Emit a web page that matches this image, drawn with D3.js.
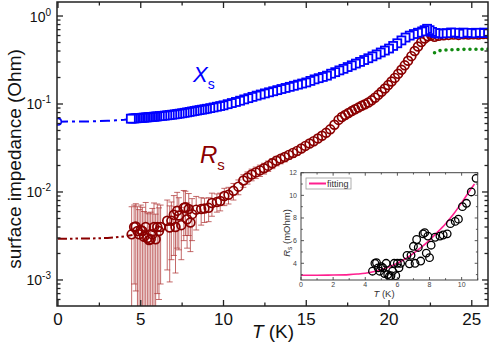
<!DOCTYPE html>
<html>
<head>
<meta charset="utf-8">
<script src="https://cdn.jsdelivr.net/npm/d3@7"></script>
<style>
  body { margin: 0; background: #fff; }
  svg { display: block; font-family: "Liberation Sans", Arial, sans-serif; }
</style>
</head>
<body>
<div id="chart"></div>
<script>
// X_s (reactance), Ohm
const xsT = [4.4,4.5,4.6,4.7,4.8,4.9,5.0,5.1,5.2,5.3,5.4,5.5,5.6,5.7,5.8,5.9,6.0,6.15,6.3,6.45,6.6,6.75,6.9,7.05,7.2,7.35,7.5,7.65,7.8,7.95,8.1,8.25,8.4,8.55,8.7,8.85,9.0,9.2,9.4,9.6,9.8,10.0,10.25,10.5,10.75,11.0,11.25,11.5,11.75,12.0,12.25,12.5,12.75,13.0,13.25,13.5,13.75,14.0,14.25,14.5,14.75,15.0,15.25,15.5,15.75,16.0,16.25,16.5,16.75,17.0,17.25,17.5,17.75,18.0,18.25,18.5,18.75,19.0,19.25,19.5,19.75,20.0,20.25,20.5,20.75,21.0,21.25,21.5,21.75,22.0,22.15,22.3,22.45,22.6,22.8,23.0,23.25,23.5,23.75,24.0,24.25,24.5,24.75,25.0,25.25,25.5,25.75,26.0];
const xsV = [.0681,.0684,.0686,.0688,.0690,.0693,.0695,.0698,.0700,.0703,.0705,.0708,.0711,.0714,.0717,.0720,.0723,.0728,.0733,.0738,.0744,.0750,.0756,.0762,.0770,.0777,.0785,.0794,.0803,.0813,.0823,.0833,.0843,.0853,.0862,.0872,.0883,.0898,.0914,.0931,.0948,.0966,.0995,.1025,.1055,.1090,.1128,.1165,.1205,.1245,.1282,.1320,.1358,.1396,.1437,.1480,.1522,.1567,.1612,.1660,.1708,.1758,.1830,.1905,.1965,.2030,.2100,.2210,.2300,.2410,.2510,.2630,.2750,.2880,.3010,.3160,.3310,.3480,.3660,.3850,.4050,.4270,.4570,.4900,.5280,.5690,.5990,.6240,.6460,.6680,.6900,.7160,.6900,.6600,.6400,.6310,.6350,.6380,.6500,.6450,.6300,.6480,.6420,.6350,.6450,.6400,.6480,.6400];
// X_s extrapolation to T = 0
const xsFitT = [0, 1, 2, 3, 3.5, 4, 4.4];
const xsFitV = [0.063, 0.0631, 0.0634, 0.0645, 0.0652, 0.0662, 0.0675];

// R_s (resistance), Ohm, with error bars
const rsT = [4.45,4.6,4.7,4.8,4.9,5.0,5.1,5.2,5.3,5.4,5.5,5.6,5.7,5.8,5.9,6.0,6.1,6.2,6.6,6.75,6.85,7.0,7.1,7.2,7.3,7.45,7.6,7.7,7.8,7.9,8.0,8.1,8.35,8.65,8.85,9.1,9.3,9.6,9.8,10.05,10.3,10.6,10.9,
  11.2,11.45,11.7,11.95,12.2,12.45,12.7,12.95,13.2,13.45,13.7,13.95,14.2,14.45,14.7,14.95,15.2,15.45,15.7,15.95,16.2,16.45,16.7,16.95,17.15,17.35,17.55,17.75,17.95,18.15,18.35,18.55,18.75,18.95,19.15,19.35,19.55,19.75,19.95,20.15,20.35,20.55,20.75,20.95,21.15,21.35,21.55,21.75,21.95,22.15,22.35,22.55,22.75,23.0,23.3,23.6,23.9,24.2,24.5,24.8,25.1,25.4,25.7,26.0];
const rsV = [.0033,.0040,.00405,.0036,.0033,.0037,.0036,.0031,.0040,.0030,.00285,.0029,.0033,.0040,.0029,.0040,.0036,.0040,.0047,.00395,.0047,.0055,.0040,.0061,.0054,.0042,.0066,.0067,.0049,.0064,.0045,.0056,.0063,.0064,.0065,.0066,.0075,.0077,.0079,.0090,.0093,.0103,.0115,
  .0135,.0146,.0158,.0167,.0176,.0186,.0198,.0212,.0226,.0238,.0250,.0264,.0278,.0293,.0312,.0334,.0355,.0378,.0405,.0436,.0470,.0515,.0580,.0660,.0710,.0750,.0790,.0830,.0870,.0910,.0955,.0995,.1040,.1100,.1180,.1270,.1380,.1500,.1640,.1800,.1980,.2200,.2450,.2750,.3100,.3500,.4000,.4500,.5050,.5550,.5900,.6050,.5800,.5950,.6050,.6100,.6150,.6100,.6200,.6150,.6200,.6150,.6250,.6200];
const rsErr = [.0035,.0031,.0033,.0032,.0030,.0034,.0031,.0029,.0036,.0028,.0028,.0030,.0032,.0035,.0027,.0033,.0030,.0031,.0034,.0030,.0030,.0036,.0028,.0038,.0032,.0025,.0038,.0035,.0026,.0032,.0024,.0028,.0026,.0022,.0020,.0020,.0022,.0018,.0018,.0020,.0020,.0022,.0022,
  .0022,.0023,.0024,.0025,.0026,.0026,.0027,.0028,.0028,.0029,.0030,.0030,.0031,.0032,.0032,.0033,.0034,.0034,.0035,.0036,.0037,.0038,.0040,.0042,.0044,.0046,.0048,.0050,.0052,.0054,.0056,.0058,.0060,.0064,.0068,.0072,.0076,.0080,.0085,.0090,.0095,.0100,.0110,.0120,.0130,.0140,.0150,.0160,.0170,.0180,.0190,.0200,.0200,.0200,.0200,.0200,.0200,.0200,.0200,.0200,.0200,.0200,.0200,.0200];

// fitting curve of R_s, mOhm (also drawn as extrapolation in main plot)
const fitT = [0, 1, 2, 3, 3.5, 4, 4.5, 5, 5.5, 6, 6.5, 7, 7.5, 8, 8.5, 9, 9.5, 10, 10.5, 10.8];
const fitV = [2.95, 2.95, 2.96, 3.0, 3.05, 3.12, 3.25, 3.45, 3.7, 4.0, 4.4, 4.88, 5.42, 6.05, 6.75, 7.5, 8.35, 9.35, 10.4, 11.0];

// green dotted curve
const gT = [22.75, 22.9, 23.1, 23.3, 23.6, 23.9, 24.2, 24.5, 24.8, 25.1, 25.4, 25.7, 26.0];
const gV = [0.382, 0.398, 0.405, 0.41, 0.413, 0.415, 0.417, 0.418, 0.418, 0.419, 0.419, 0.42, 0.42];

const xTicks = [0, 5, 10, 15, 20, 25];
const yTicks = [1e-3, 1e-2, 1e-1, 1];
const yTickExp = ["-3", "-2", "-1", "0"];
const insetXTicks = [0, 2, 4, 6, 8, 10];
const insetYTicks = [4, 6, 8, 10, 12];

const W = 491, H = 351;
const pL = 57, pR = 488, pT = 2, pB = 306;
const blue = "#0000ff", red = "#8b0000", pink = "#ff1f8f";

const svg = d3.select("#chart").append("svg").attr("width", W).attr("height", H);

const x = d3.scaleLinear().domain([-0.06, 25.98]).range([pL, pR]);
const y = d3.scaleLog().domain([5.06e-4, 1.443]).range([pB, pT]);

svg.append("clipPath").attr("id", "clip")
  .append("rect").attr("x", pL).attr("y", pT).attr("width", pR - pL).attr("height", pB - pT);

const plot = svg.append("g").attr("clip-path", "url(#clip)");

// error bars for R_s
const r = 4.4;
const eb = plot.append("g").attr("stroke", "#b03838").attr("stroke-opacity", 0.75).attr("stroke-width", 1);
rsT.forEach((t, i) => {
  const px = x(t), py = y(rsV[i]);
  const yt = y(rsV[i] + rsErr[i]);
  if (yt < py - r) {
    eb.append("line").attr("x1", px).attr("x2", px).attr("y1", py - r).attr("y2", yt);
    eb.append("line").attr("x1", px - 3).attr("x2", px + 3).attr("y1", yt).attr("y2", yt);
  }
  const lo = rsV[i] - rsErr[i];
  const yb = lo > 0 ? y(lo) : pB + 20;
  if (yb > py + r) {
    eb.append("line").attr("x1", px).attr("x2", px).attr("y1", py + r).attr("y2", yb);
    if (lo > 0) eb.append("line").attr("x1", px - 3).attr("x2", px + 3).attr("y1", yb).attr("y2", yb);
  }
});

// R_s extrapolation (dash-dot-dot)
const fitMain = fitT.map((t, i) => [t, fitV[i] / 1000]).filter(d => d[0] <= 4.5);
plot.append("path")
  .datum(fitMain)
  .attr("fill", "none").attr("stroke", red).attr("stroke-width", 2)
  .attr("stroke-dasharray", "9,3,2.5,3,2.5,3")
  .attr("d", d3.line().x(d => x(d[0])).y(d => y(d[1])));

// R_s circles
plot.append("g").selectAll("circle")
  .data(rsT.map((t, i) => [t, rsV[i]]))
  .join("circle")
  .attr("cx", d => x(d[0])).attr("cy", d => y(d[1])).attr("r", r)
  .attr("fill", "none").attr("stroke", red).attr("stroke-width", 1.7);

// green dotted
plot.append("path")
  .datum(gT.map((t, i) => [t, gV[i]]))
  .attr("fill", "none").attr("stroke", "#118a11").attr("stroke-width", 3.6)
  .attr("stroke-linecap", "round").attr("stroke-dasharray", "0,6")
  .attr("d", d3.line().x(d => x(d[0])).y(d => y(d[1])));

// X_s extrapolation (dash-dot)
plot.append("path")
  .datum(xsFitT.map((t, i) => [t, xsFitV[i]]))
  .attr("fill", "none").attr("stroke", blue).attr("stroke-width", 2)
  .attr("stroke-dasharray", "10,4,3,4")
  .attr("d", d3.line().x(d => x(d[0])).y(d => y(d[1])));

plot.append("circle")
  .attr("cx", x(xsFitT[0])).attr("cy", y(xsFitV[0])).attr("r", 3.3)
  .attr("fill", "#fff").attr("stroke", blue).attr("stroke-width", 1.6);

// X_s squares, drawn from high T to low T (cooling run)
const s = 8;
const xsPts = xsT.map((t, i) => [t, xsV[i]]).reverse();
plot.append("g").selectAll("rect")
  .data(xsPts)
  .join("rect")
  .attr("x", d => x(d[0]) - s / 2).attr("y", d => y(d[1]) - s / 2)
  .attr("width", s).attr("height", s)
  .attr("fill", "#fff").attr("stroke", blue).attr("stroke-width", 1.8);

// frame and ticks
const axisCol = "#222";
svg.append("rect").attr("x", pL).attr("y", pT).attr("width", pR - pL).attr("height", pB - pT)
  .attr("fill", "none").attr("stroke", axisCol).attr("stroke-width", 1.5);

const xMinor = [2.5, 7.5, 12.5, 17.5, 22.5];
const yMinor = y.ticks().filter(v => !yTicks.some(t => Math.abs(t - v) < 1e-9));

const tk = svg.append("g").attr("stroke", axisCol).attr("stroke-width", 1.3);
xTicks.forEach(v => {
  tk.append("line").attr("x1", x(v)).attr("x2", x(v)).attr("y1", pB).attr("y2", pB - 6);
  tk.append("line").attr("x1", x(v)).attr("x2", x(v)).attr("y1", pT).attr("y2", pT + 6);
});
xMinor.forEach(v => {
  tk.append("line").attr("x1", x(v)).attr("x2", x(v)).attr("y1", pB).attr("y2", pB - 3.5);
  tk.append("line").attr("x1", x(v)).attr("x2", x(v)).attr("y1", pT).attr("y2", pT + 3.5);
});
yTicks.forEach(v => {
  tk.append("line").attr("x1", pL).attr("x2", pL + 6).attr("y1", y(v)).attr("y2", y(v));
  tk.append("line").attr("x1", pR).attr("x2", pR - 6).attr("y1", y(v)).attr("y2", y(v));
});
yMinor.forEach(v => {
  tk.append("line").attr("x1", pL).attr("x2", pL + 3.5).attr("y1", y(v)).attr("y2", y(v));
  tk.append("line").attr("x1", pR).attr("x2", pR - 3.5).attr("y1", y(v)).attr("y2", y(v));
});

// tick labels
svg.append("g").selectAll("text").data(xTicks).join("text")
  .attr("x", d => x(d)).attr("y", 325).attr("text-anchor", "middle")
  .attr("font-size", 17).attr("fill", "#111").text(d => d);

yTicks.forEach((v, i) => {
  const t = svg.append("text").attr("x", 51).attr("y", y(v) + 5.5)
    .attr("text-anchor", "end").attr("font-size", 14).attr("fill", "#111");
  t.append("tspan").text("10");
  t.append("tspan").attr("dy", -6).attr("font-size", 10).text(yTickExp[i]);
});

// axis titles
svg.append("text").attr("transform", `translate(21,159) rotate(-90)`)
  .attr("text-anchor", "middle").attr("font-size", 19).attr("fill", "#111")
  .text("surface impedance (Ohm)");

const xt = svg.append("text").attr("x", 273).attr("y", 338).attr("text-anchor", "middle")
  .attr("font-size", 19).attr("fill", "#111");
xt.append("tspan").attr("font-style", "italic").text("T");
xt.append("tspan").text(" (K)");

// series labels
const lx = svg.append("text").attr("x", 193).attr("y", 82).attr("font-size", 22).attr("fill", blue);
lx.append("tspan").attr("font-style", "italic").text("X");
lx.append("tspan").attr("dy", 7).attr("font-size", 14).text("s");

const lr = svg.append("text").attr("x", 200).attr("y", 163).attr("font-size", 24).attr("fill", red);
lr.append("tspan").attr("font-style", "italic").text("R");
lr.append("tspan").attr("dy", 7).attr("font-size", 15).text("s");

// ---- inset ----
const ix = d3.scaleLinear().domain([0, 11]).range([301, 477.7]);
const iy = d3.scaleLinear().domain([2.525, 12]).range([280, 172.7]);
const inset = svg.append("g");

inset.append("rect").attr("x", 281).attr("y", 166).attr("width", 199).attr("height", 134).attr("fill", "#fff");

inset.append("clipPath").attr("id", "iclip")
  .append("rect").attr("x", 301).attr("y", 172.7).attr("width", 176.7).attr("height", 107.3);

const ig = inset.append("g").attr("clip-path", "url(#iclip)");
ig.append("path")
  .datum(fitT.map((t, i) => [t, fitV[i]]))
  .attr("fill", "none").attr("stroke", pink).attr("stroke-width", 1.6)
  .attr("d", d3.line().curve(d3.curveMonotoneX).x(d => ix(d[0])).y(d => iy(d[1])));

ig.append("g").selectAll("circle")
  .data(rsT.map((t, i) => [t, rsV[i] * 1000]).filter(d => d[0] <= 11))
  .join("circle")
  .attr("cx", d => ix(d[0])).attr("cy", d => iy(d[1])).attr("r", 3.8)
  .attr("fill", "none").attr("stroke", "#000").attr("stroke-width", 1.3);

inset.append("rect").attr("x", 301).attr("y", 172.7).attr("width", 176.7).attr("height", 107.3)
  .attr("fill", "none").attr("stroke", "#444").attr("stroke-width", 1);

const itk = inset.append("g").attr("stroke", "#444").attr("stroke-width", 0.9);
[0,1,2,3,4,5,6,7,8,9,10,11].forEach(v => {
  const len = insetXTicks.includes(v) ? 3 : 1.8;
  itk.append("line").attr("x1", ix(v)).attr("x2", ix(v)).attr("y1", 280).attr("y2", 280 - len);
  itk.append("line").attr("x1", ix(v)).attr("x2", ix(v)).attr("y1", 172.7).attr("y2", 172.7 + len);
});
[3,4,5,6,7,8,9,10,11,12].forEach(v => {
  const len = insetYTicks.includes(v) ? 3 : 1.8;
  itk.append("line").attr("x1", 301).attr("x2", 301 + len).attr("y1", iy(v)).attr("y2", iy(v));
  itk.append("line").attr("x1", 477.7).attr("x2", 477.7 - len).attr("y1", iy(v)).attr("y2", iy(v));
});

inset.append("g").selectAll("text").data(insetXTicks).join("text")
  .attr("x", d => ix(d)).attr("y", 287).attr("text-anchor", "middle")
  .attr("font-size", 7).attr("fill", "#444").text(d => d);
inset.append("g").selectAll("text").data(insetYTicks).join("text")
  .attr("x", 297).attr("y", d => iy(d) + 2.5).attr("text-anchor", "end")
  .attr("font-size", 7).attr("fill", "#444").text(d => d);

const ixt = inset.append("text").attr("x", 384).attr("y", 297).attr("text-anchor", "middle")
  .attr("font-size", 9.5).attr("fill", "#333");
ixt.append("tspan").attr("font-style", "italic").text("T");
ixt.append("tspan").text(" (K)");

const iyt = inset.append("text").attr("transform", "translate(290,233) rotate(-90)")
  .attr("text-anchor", "middle").attr("font-size", 9.5).attr("fill", "#333");
iyt.append("tspan").attr("font-style", "italic").text("R");
iyt.append("tspan").attr("dy", 2).attr("font-size", 6.5).text("s");
iyt.append("tspan").attr("dy", -2).text(" (mOhm)");

// inset legend
inset.append("rect").attr("x", 306).attr("y", 178).attr("width", 45).attr("height", 11)
  .attr("fill", "#fff").attr("stroke", "#999").attr("stroke-width", 0.8);
inset.append("line").attr("x1", 309).attr("x2", 326).attr("y1", 183.5).attr("y2", 183.5)
  .attr("stroke", pink).attr("stroke-width", 2);
inset.append("text").attr("x", 327).attr("y", 187).attr("font-size", 9).attr("fill", "#333").text("fitting");
</script>
</body>
</html>
